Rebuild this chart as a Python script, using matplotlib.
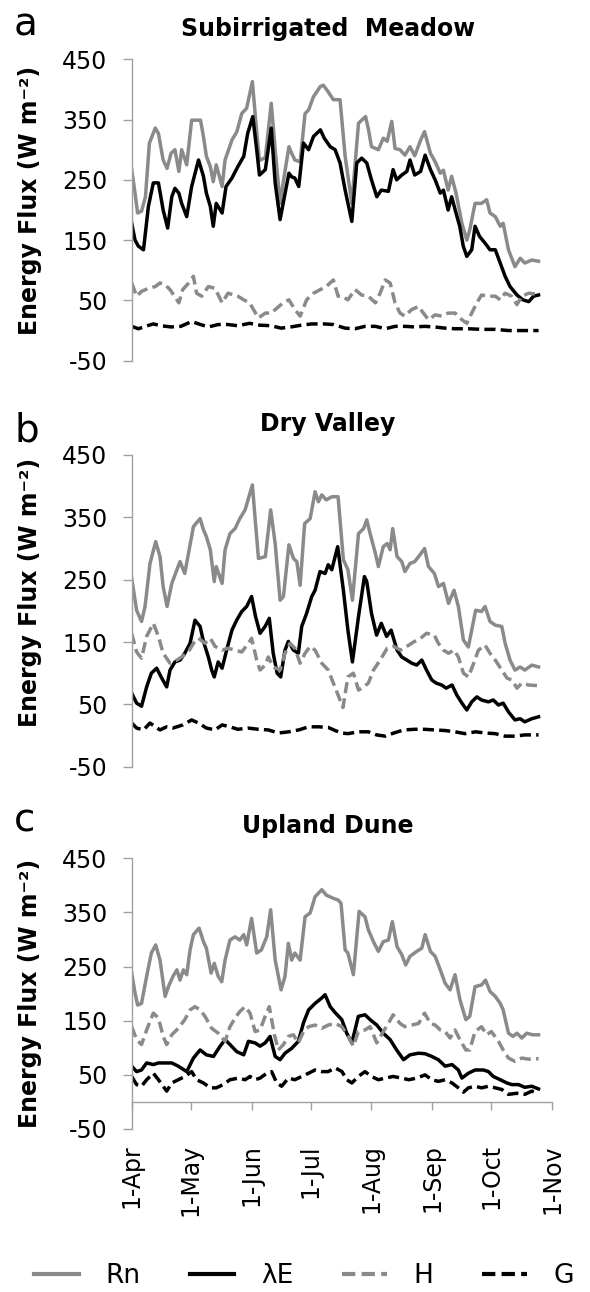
import matplotlib
matplotlib.use("Agg")
import matplotlib.pyplot as plt
from matplotlib.lines import Line2D

# ---------------- data (x = days after 1 April, y = W m-2) ----------------
month_days = [0, 30, 61, 91, 122, 153, 183, 214]
month_labels = ["1-Apr", "1-May", "1-Jun", "1-Jul", "1-Aug", "1-Sep", "1-Oct", "1-Nov"]
y_ticks = [-50, 50, 150, 250, 350, 450]
panel_titles = ["Subirrigated  Meadow", "Dry Valley", "Upland Dune"]
panel_letters = ["a", "b", "c"]
series_names = ["Rn", "λE", "H", "G"]

# Panel a - Subirrigated Meadow
a_rn_day = [0, 1.7, 3, 5, 7, 9, 12, 13.6, 16, 18, 20, 22, 24, 25.4, 28, 30.5, 35, 36.5, 38, 40, 41.5, 43, 46,
            47.5, 51, 53.5, 56, 58.5, 61.4, 63.6, 65, 68, 71, 73, 75.5, 77, 80, 81.4, 83, 85.7, 88.2, 90, 92.5,
            96, 97.5, 100, 102.6, 104, 106, 108.6, 112, 115.4, 119, 120.5, 122, 125.5, 128, 130, 132.3, 134,
            136.5, 139, 141.6, 144, 147, 149, 152, 154.4, 157, 158.6, 161, 162.8, 165, 168, 170.5, 172, 174.7,
            178, 180.6, 182.3, 185, 187.5, 189, 191.7, 195, 197.7, 200, 203.6, 207]
a_rn = [267, 228, 195, 198, 222, 311, 336, 327, 283, 269, 294, 300, 264, 300, 275, 349, 349, 322, 289, 272, 247,
        275, 239, 283, 316, 330, 360, 369, 413, 330, 282, 287, 377, 300, 211, 244, 305, 294, 283, 280, 360, 366,
        388, 405, 407, 396, 383, 383, 383, 289, 211, 344, 355, 333, 305, 300, 319, 314, 347, 302, 300, 291, 305,
        290, 316, 330, 294, 280, 261, 266, 233, 256, 228, 178, 150, 167, 211, 211, 217, 195, 189, 173, 178, 134,
        106, 120, 112, 117, 115]
a_le_day = [0, 1.7, 3.4, 6, 8.5, 11, 13.6, 16, 18.3, 20.4, 22, 24, 25.4, 28, 30.5, 34, 36.5, 38, 40, 41.5, 43, 46,
            48, 51, 54, 57, 59, 61.6, 63.6, 65, 68, 71, 73, 75.5, 77.7, 80, 81.4, 83, 85, 87.4, 90, 92.5, 96, 98,
            101, 103.5, 106, 108.6, 112, 114.5, 117, 119.6, 122, 124.7, 127, 130.6, 133, 134.8, 137.4, 140, 141.6,
            144, 147, 149.3, 152, 154.4, 157, 158.6, 161, 162.8, 165, 166.9, 168.7, 170.5, 173, 174.7, 177, 179.8,
            182.3, 185, 187.5, 190, 192.5, 196, 199, 202, 204.5, 207]
a_le = [178, 150, 140, 134, 206, 245, 245, 200, 170, 222, 236, 228, 211, 189, 239, 283, 256, 228, 206, 173, 211,
        195, 239, 253, 272, 289, 327, 355, 300, 258, 267, 336, 245, 184, 222, 261, 255, 253, 239, 311, 300, 322,
        333, 319, 305, 300, 278, 233, 181, 278, 286, 278, 250, 222, 233, 231, 267, 250, 258, 264, 283, 258, 264,
        291, 267, 250, 228, 233, 200, 222, 195, 173, 140, 123, 134, 173, 156, 145, 134, 134, 112, 90, 73, 59, 51,
        48, 57, 59]
a_h_day = [0, 2.5, 5, 8.5, 12, 14.4, 17, 19.5, 24, 26, 29, 31.4, 33, 35.6, 39, 42.4, 46, 49, 54, 57, 60, 63, 64.5,
           68, 71, 77, 80, 83, 85.7, 89, 92.5, 96, 99, 102.6, 105, 107, 110, 113.6, 117, 120.4, 124, 126.4, 129,
           131.5, 134, 136.5, 139, 142.5, 146, 148.4, 151, 154.4, 157.7, 161, 164.5, 168, 170.5, 173, 175.6, 178,
           181.5, 185, 187.5, 190, 193.3, 196, 198.5, 202, 207]
a_h = [79, 57, 65, 70, 73, 79, 76, 68, 46, 68, 79, 90, 62, 57, 73, 70, 46, 62, 57, 51, 46, 29, 21, 29, 29, 46, 51,
       35, 24, 51, 62, 68, 73, 84, 57, 57, 51, 68, 59, 57, 46, 62, 84, 79, 46, 29, 24, 35, 40, 29, 18, 26, 24, 29,
       29, 18, 12, 29, 46, 59, 57, 57, 51, 62, 57, 43, 57, 62, 60]
a_g_day = [0, 3.4, 7, 11, 15, 20, 25, 30.5, 35, 39, 44, 49, 54, 60, 65, 71, 76, 81, 86.5, 91.6, 98, 102.6, 108.6,
           113.6, 118.7, 124, 129, 134, 139, 144, 149, 154, 159.5, 164.5, 171.3, 178, 185, 191.7, 198.5, 207]
a_g = [7, 3, 7, 11, 8, 6, 7, 15, 10, 6, 10, 10, 8, 12, 9, 8, 4, 6, 9, 11, 11, 10, 4, 3, 7, 7, 3, 7, 7, 6, 7, 6, 4,
       3, 3, 2, 2, 0, 0, 0]

# Panel b - Dry Valley
b_rn_day = [0, 2.5, 5, 6.8, 9.3, 12.2, 14.4, 16, 18, 20.4, 23, 24.6, 27, 29.7, 31.4, 34.8, 36.5, 38, 40, 42, 43,
            46, 47.5, 50, 52.6, 55, 57.7, 61.4, 63, 64.5, 68, 70.7, 73, 75.5, 77.2, 80, 82.3, 84, 85.7, 88, 90.8,
            93.3, 95, 96.7, 99, 101.8, 105, 107.7, 110, 112.3, 115.4, 118, 119.6, 121.3, 124, 125.5, 128, 130,
            131.5, 132.8, 135, 137.4, 139, 141.6, 144, 146.7, 149, 151, 154, 156.1, 158.6, 161.2, 164, 166.2,
            168.8, 171.3, 175, 178, 179.8, 182.3, 185, 188.3, 190, 192.5, 195, 197.6, 200, 203.6, 207]
b_rn = [252, 201, 183, 207, 276, 311, 287, 239, 207, 244, 266, 279, 260, 306, 335, 348, 330, 319, 298, 247, 271,
        244, 298, 324, 332, 348, 362, 402, 340, 284, 287, 362, 308, 217, 223, 306, 284, 279, 241, 340, 348, 391,
        375, 386, 378, 383, 383, 282, 266, 217, 324, 332, 346, 324, 292, 271, 303, 308, 298, 332, 287, 279, 263,
        276, 279, 290, 300, 271, 260, 239, 244, 212, 233, 207, 153, 142, 201, 199, 207, 183, 177, 175, 148, 121,
        105, 110, 105, 113, 110]
b_le_day = [0, 2.5, 5, 7.6, 10, 12.7, 15.3, 17.8, 19.5, 22, 24.6, 27, 29.7, 32.2, 34.8, 36.5, 39, 40.7, 42, 44,
            46, 48.3, 51, 53.4, 56, 58.5, 61, 63, 65.3, 67.9, 70, 72, 74, 75.8, 78, 79.7, 82.3, 84.8, 86.5, 89,
            91.6, 93.3, 95.8, 98.4, 100, 101.8, 104.8, 107.7, 110, 112.3, 115.4, 118.4, 119.6, 122, 124.6, 127,
            129.7, 132, 135, 137.4, 140, 142.5, 145, 147.6, 150, 152.7, 155, 157.7, 160, 163, 165.4, 168, 170.5,
            173, 175.6, 178, 181.5, 184, 186.6, 189, 191.7, 195, 197.6, 200, 203.6, 207]
b_le = [68, 52, 47, 78, 100, 108, 92, 78, 105, 118, 121, 132, 148, 185, 175, 151, 126, 105, 94, 118, 108, 137,
        169, 185, 199, 207, 223, 191, 164, 175, 188, 132, 100, 94, 137, 151, 137, 132, 175, 196, 223, 233, 263,
        260, 274, 266, 303, 233, 169, 118, 191, 255, 247, 196, 161, 180, 159, 169, 137, 126, 121, 116, 113, 121,
        105, 89, 84, 81, 76, 81, 65, 52, 41, 54, 62, 57, 54, 57, 49, 52, 38, 25, 27, 22, 27, 30]
b_h_day = [0, 2.5, 5, 7.6, 11, 13.6, 16, 19.5, 23, 25.4, 28.8, 31.4, 34, 37.3, 40, 42.4, 46, 49, 52.6, 56, 59.4,
           61, 63.6, 65.3, 67.9, 69.5, 72, 75.5, 78, 80.6, 83, 85.7, 88.2, 90.8, 93.3, 96.7, 100, 102.6, 105,
           107.5, 110, 112.8, 115.4, 118, 120.4, 123, 126.4, 130, 133.3, 136.7, 140, 143.4, 147, 150, 154, 156,
           158.6, 161.2, 164, 166.2, 168.8, 171.3, 174, 176.4, 179.8, 182.3, 185, 188.3, 191, 193.5, 196, 198.5,
           202, 207]
b_h = [164, 134, 124, 159, 180, 159, 132, 116, 121, 126, 134, 148, 156, 148, 156, 143, 137, 140, 137, 134, 148,
       156, 121, 105, 113, 126, 110, 105, 132, 148, 140, 116, 132, 143, 137, 116, 105, 84, 65, 45, 94, 100, 73, 78,
       84, 105, 121, 140, 143, 137, 143, 150, 156, 164, 161, 148, 137, 132, 137, 126, 100, 94, 116, 137, 145, 132,
       121, 105, 92, 89, 76, 84, 81, 80]
b_g_day = [0, 2.5, 6, 9.3, 12, 14.4, 17.8, 21, 26, 30.5, 34, 38, 42.4, 46, 50, 54, 59, 64.5, 69.5, 74.6, 80, 85,
           90, 95, 100, 103.5, 107, 110, 115.4, 120.4, 124.6, 129, 133.3, 138.5, 144, 149, 154, 159.5, 164.5,
           169.6, 175, 180, 185, 190, 195, 200, 207]
b_g = [20, 12, 9, 20, 14, 9, 14, 12, 17, 25, 20, 12, 9, 17, 14, 10, 12, 10, 9, 4, 6, 9, 14, 14, 13, 8, 4, 3, 6, 6,
       1, -1, 4, 9, 10, 10, 9, 8, 6, 3, 6, 4, 3, -1, -1, 1, 1]

# Panel c - Upland Dune
c_rn_day = [0, 1.7, 3, 5, 7.6, 10, 12.2, 14.4, 17, 18.7, 21, 23, 24.6, 26.3, 28, 29.7, 31.4, 34.3, 36.5, 38,
            40.4, 42, 44, 45.8, 47.5, 50, 52.6, 55, 57, 58.5, 61, 63.6, 66, 68.7, 70.7, 73, 76, 78, 79.7, 81.4,
            83, 85.7, 88.2, 90.8, 93.3, 96.7, 99, 102.6, 105, 106.5, 108.6, 110, 112.8, 115.7, 118.7, 120.4, 123,
            125.5, 128, 130.6, 132.6, 135, 137.4, 139.4, 141.6, 145, 147.6, 149.3, 152, 154.4, 157, 159.5, 162,
            164.5, 167, 170, 172, 174.7, 178, 180, 182.3, 185, 187.5, 189, 191.7, 194, 196, 198.5, 201, 204, 207]
c_rn = [238, 201, 179, 182, 232, 275, 290, 262, 195, 213, 232, 244, 225, 244, 235, 281, 309, 321, 296, 284, 238,
        256, 232, 222, 262, 299, 305, 299, 309, 290, 339, 275, 281, 305, 355, 262, 207, 232, 293, 262, 275, 262,
        342, 349, 379, 392, 382, 376, 373, 367, 281, 275, 235, 352, 342, 318, 296, 278, 296, 299, 333, 287, 272,
        253, 269, 278, 284, 309, 278, 269, 244, 219, 207, 235, 189, 152, 158, 213, 216, 225, 204, 195, 182, 170,
        127, 121, 127, 118, 127, 124, 124]
c_le_day = [0, 2.5, 5, 7.6, 11, 13.6, 17, 20.4, 23.7, 28, 31.4, 34.8, 38, 41.6, 45, 47.5, 50, 53.4, 57, 59.4,
            62.8, 65.3, 67.9, 70.4, 73, 75.5, 78, 81.4, 84.8, 87.4, 90, 93.3, 96.7, 98.4, 101, 103.5, 106.9,
            109.4, 112, 115.3, 118.7, 121.3, 124.7, 128, 131.5, 134.8, 138.3, 141.6, 146, 149.3, 152.7, 156, 159.5,
            163, 166.2, 168, 171.3, 174.7, 179, 181.5, 184, 187.5, 190.9, 193.4, 196.8, 200, 203.6, 207]
c_le = [66, 56, 59, 72, 69, 72, 72, 72, 66, 56, 81, 96, 87, 84, 103, 115, 106, 93, 87, 112, 109, 103, 109, 121,
        84, 78, 90, 99, 112, 146, 170, 182, 192, 198, 176, 165, 152, 127, 109, 158, 161, 152, 142, 127, 115, 96, 78,
        87, 90, 89, 84, 78, 66, 69, 59, 44, 53, 59, 59, 56, 47, 41, 35, 32, 32, 27, 29, 24]
c_h_day = [0, 2.5, 5, 7.6, 11, 13.6, 16, 17.8, 20.4, 23.7, 27, 29.7, 32.2, 34.8, 37.3, 40.7, 44, 47.5, 50, 52.6,
           55, 57.7, 60.2, 62.8, 65.3, 67.9, 70, 72.6, 74.6, 77.2, 79.7, 82.3, 84.8, 87.4, 90, 93.3, 96.7, 100,
           103.5, 106.9, 110.2, 112.8, 115.3, 118.7, 121.3, 124.7, 128, 130.6, 133, 136.5, 139, 142.5, 146, 149,
           152, 154.4, 157, 159.5, 162, 164.5, 167, 170, 172, 174.7, 178, 180.6, 183, 186.6, 189, 191.7, 195,
           198.5, 202, 207]
c_h = [139, 115, 106, 133, 164, 155, 121, 106, 124, 136, 152, 170, 176, 170, 158, 136, 127, 112, 139, 155, 167,
       176, 164, 130, 133, 158, 176, 124, 96, 106, 121, 124, 109, 130, 139, 142, 136, 142, 145, 139, 121, 103, 130,
       133, 139, 109, 130, 145, 161, 145, 139, 142, 145, 164, 145, 142, 133, 130, 118, 133, 115, 96, 96, 130, 139,
       124, 130, 112, 96, 81, 75, 81, 79, 80]
c_g_day = [0, 2.5, 5, 7.6, 11, 13.6, 16, 17.8, 20.4, 23.7, 27, 30.5, 33, 36.5, 40, 43, 46.6, 50, 54.3, 57.7,
           60.2, 62.8, 65.3, 68.7, 71.2, 73.8, 76.3, 79.7, 83, 86.5, 90, 93.3, 96.7, 100, 103.5, 107, 109.4, 112,
           115.3, 118.7, 122, 125.5, 129, 133, 137.4, 141, 145, 149.3, 152.7, 156, 159.5, 163, 166.2, 168.8,
           171.3, 174.7, 178, 181.5, 185, 188.3, 191.7, 196, 200, 203.6, 207]
c_g = [47, 32, 29, 41, 53, 41, 29, 20, 35, 41, 47, 56, 41, 35, 26, 26, 32, 41, 44, 41, 47, 41, 44, 53, 56, 35, 29,
       44, 41, 47, 53, 59, 56, 56, 63, 56, 41, 35, 47, 56, 47, 41, 44, 47, 44, 41, 44, 50, 41, 38, 41, 35, 26, 18,
       26, 29, 26, 29, 26, 23, 14, 16, 14, 20, 16]

panels = [
    [(a_rn_day, a_rn), (a_le_day, a_le), (a_h_day, a_h), (a_g_day, a_g)],
    [(b_rn_day, b_rn), (b_le_day, b_le), (b_h_day, b_h), (b_g_day, b_g)],
    [(c_rn_day, c_rn), (c_le_day, c_le), (c_h_day, c_h), (c_g_day, c_g)],
]

# ---------------- styling ----------------
GRAY = "#8a8a8a"
AXIS = "#a0a0a0"
DASH = (0, (3.2, 1.5))
styles = [
    dict(color=GRAY, ls="-", lw=2.5),
    dict(color="black", ls="-", lw=2.5),
    dict(color=GRAY, ls=DASH, lw=2.5),
    dict(color="black", ls=DASH, lw=2.5),
]

W, H = 590, 1292
fig = plt.figure(figsize=(W / 100, H / 100), dpi=100)
plt.rcParams["font.family"] = ["DejaVu Sans"]

X0, X1 = 131.7, 552.3
panel_px = [(59.3, 360.7), (455.0, 766.7), (858.3, 1129.0)]
title_base = [36.0, 431.0, 832.5]
letter_base = [35.0, 441.5, 831.5]
label_center = [200.0, 592.0, 993.0]

for i, (top, bot) in enumerate(panel_px):
    ax = fig.add_axes([X0 / W, 1 - bot / H, (X1 - X0) / W, (bot - top) / H])
    for (d, v), st in zip(panels[i], styles):
        ax.plot(d, v, color=st["color"], linestyle=st["ls"], linewidth=st["lw"],
                dash_capstyle="butt", solid_joinstyle="round")
    ax.set_xlim(month_days[0], month_days[-1])
    ax.set_ylim(-50, 450)
    ax.set_yticks(y_ticks)
    ax.set_yticklabels([str(t) for t in y_ticks])
    for s in ("top", "right"):
        ax.spines[s].set_visible(False)
    ax.spines["left"].set_color(AXIS)
    ax.spines["left"].set_linewidth(1.0)
    ax.tick_params(axis="y", direction="out", length=6.5, width=1.0, color=AXIS,
                   labelsize=17, pad=11, labelcolor="black")
    if i < 2:
        ax.spines["bottom"].set_visible(False)
        ax.tick_params(axis="x", bottom=False, labelbottom=False)
    else:
        ax.spines["bottom"].set_position(("data", 0))
        ax.spines["bottom"].set_color(AXIS)
        ax.spines["bottom"].set_linewidth(1.0)
        ax.set_xticks(month_days)
        ax.tick_params(axis="x", direction="out", length=5.5, width=1.0, color=AXIS,
                       labelbottom=False)
        sec = ax.secondary_xaxis("bottom")
        sec.set_xticks(month_days)
        sec.set_xticklabels(month_labels, rotation=90)
        sec.spines["bottom"].set_visible(False)
        sec.tick_params(axis="x", length=0, labelsize=17, pad=11)

    fig.text(328 / W, 1 - title_base[i] / H, panel_titles[i], ha="center", va="baseline",
             fontsize=17, fontweight="bold")
    fig.text(14 / W, 1 - letter_base[i] / H, panel_letters[i], ha="left", va="baseline",
             fontsize=28)
    fig.text(30 / W, 1 - label_center[i] / H, "Energy Flux (W m\u207b\u00b2)", rotation=90,
             ha="center", va="center", fontsize=17, fontweight="bold")

handles = [Line2D([], [], color=st["color"], linestyle=st["ls"], linewidth=3.0,
                  dash_capstyle="butt") for st in styles]
fig.legend(handles, series_names, loc="center", bbox_to_anchor=(304 / W, 1 - 1276 / H),
           ncol=4, frameon=False, fontsize=19, handlelength=1.7, handletextpad=1.0,
           columnspacing=1.85, borderpad=0, borderaxespad=0)

fig.savefig("out.png", dpi=100)
